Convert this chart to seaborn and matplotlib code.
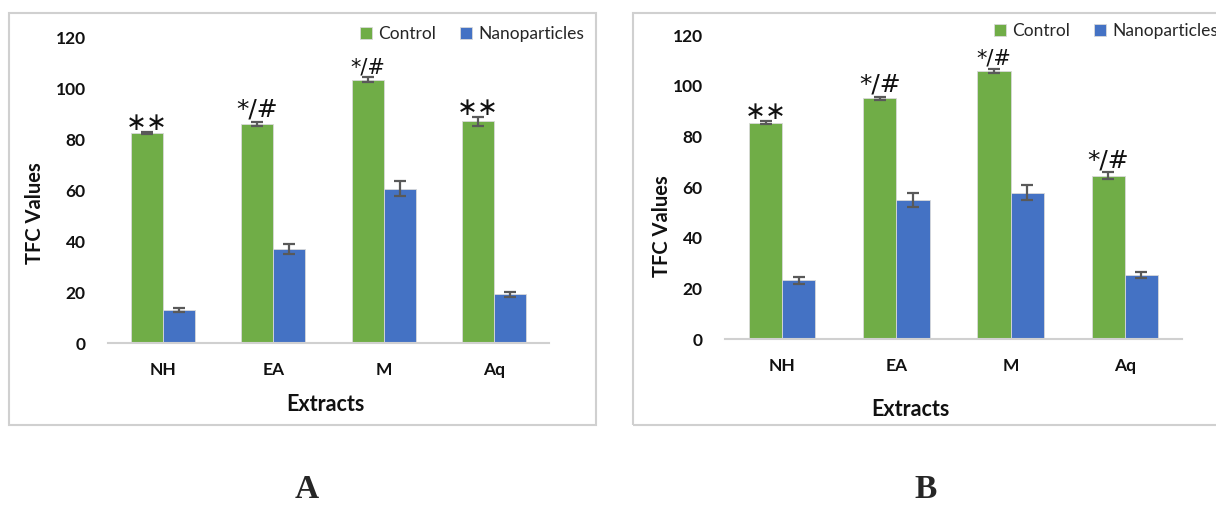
import matplotlib
matplotlib.use("Agg")
import matplotlib.pyplot as plt
from matplotlib.patches import Rectangle
import seaborn as sns
import pandas as pd

# Extract groups and treatments
extracts = ["NH", "EA", "M", "Aq"]
series = ["Control", "Nanoparticles"]

# Panel A: TFC means and error bars
a_control = [82.6, 86.2, 103.5, 87.2]
a_nano = [12.9, 37.0, 60.7, 19.1]
a_control_err = [0.5, 0.8, 1.0, 1.7]
a_nano_err = [0.8, 1.8, 3.0, 0.9]
a_marks = ["∗∗", "*/#", "*/#", "∗∗"]

# Panel B: TFC means and error bars
b_control = [85.4, 95.0, 105.8, 64.4]
b_nano = [23.1, 54.9, 57.7, 25.2]
b_control_err = [0.6, 0.7, 0.9, 1.4]
b_nano_err = [1.4, 2.8, 3.0, 1.2]
b_marks = ["∗∗", "*/#", "*/#", "*/#"]

y_ticks = [0, 20, 40, 60, 80, 100, 120]

GREEN = "#70AD47"
BLUE = "#4472C4"
ERR = "#595959"
INK = "#111111"
FONT = "Lato"

sns.set_theme(style="white")
plt.rcParams["font.family"] = [FONT, "DejaVu Sans"]

W, H = 1216, 505
fig = plt.figure(figsize=(W / 100, H / 100), dpi=100)


def px_axes(x0, y0, x1, y1):
    return fig.add_axes([x0 / W, 1 - y1 / H, (x1 - x0) / W, (y1 - y0) / H])


def frame(x0, y0, x1, y1):
    fig.patches.append(Rectangle((x0 / W, 1 - y1 / H), (x1 - x0) / W, (y1 - y0) / H,
                                 transform=fig.transFigure, fill=False,
                                 edgecolor="#d0d0d0", linewidth=1.5))


def panel(ax, control, nano, cerr, nerr, marks, mark_sizes, legend_center,
          ylabel_at, xlabel_at):
    df = pd.DataFrame({
        "Extract": extracts * 2,
        "Series": [series[0]] * 4 + [series[1]] * 4,
        "TFC": list(control) + list(nano),
    })
    sns.barplot(data=df, x="Extract", y="TFC", hue="Series", order=extracts,
                hue_order=series, palette=[GREEN, BLUE], width=0.58,
                errorbar=None, saturation=1, edgecolor="#d9d9d9", linewidth=0.6,
                ax=ax)
    errs = [cerr, nerr]
    for cont, err in zip(ax.containers, errs):
        xs = [p.get_x() + p.get_width() / 2 for p in cont]
        ys = [p.get_height() for p in cont]
        ax.errorbar(xs, ys, yerr=err, fmt="none", ecolor=ERR, elinewidth=1.6,
                    capsize=4.5, capthick=1.6, zorder=5)
    # significance marks above the control bars
    for p, e, m, s in zip(ax.containers[0], cerr, marks, mark_sizes):
        lift = -2 if m.startswith("∗") else 0
        ax.annotate(m, (p.get_x() + p.get_width() / 2, p.get_height() + e),
                    xytext=(0, lift), textcoords="offset points",
                    ha="center", va="bottom", fontsize=s, color=INK,
                    family=["DejaVu Sans"])
    ax.set_ylim(0, 120)
    ax.set_xlim(-0.5, 3.5)
    ax.set_yticks(y_ticks)
    ax.set_yticklabels([str(t) for t in y_ticks], fontsize=12.5,
                       fontweight="bold", color=INK)
    ax.set_xticks(range(len(extracts)))
    ax.set_xticklabels(extracts, fontsize=12.5, fontweight="bold", color=INK)
    ax.tick_params(axis="y", length=0, pad=16)
    ax.tick_params(axis="x", length=0, pad=14)
    ax.set_ylabel("TFC Values", fontsize=14.5, fontweight="bold", color=INK)
    ax.set_xlabel("Extracts", fontsize=15.5, fontweight="bold", color=INK)
    ax.yaxis.set_label_coords(*ylabel_at, transform=fig.transFigure)
    ax.xaxis.set_label_coords(*xlabel_at, transform=fig.transFigure)
    for side in ["top", "right", "left"]:
        ax.spines[side].set_visible(False)
    ax.spines["bottom"].set_color("#d0d0d0")
    ax.spines["bottom"].set_linewidth(1.5)
    handles, labels = ax.get_legend_handles_labels()
    if ax.get_legend() is not None:
        ax.get_legend().remove()
    fig.legend(handles, labels, loc="center",
               bbox_to_anchor=(legend_center[0] / W, 1 - legend_center[1] / H),
               bbox_transform=fig.transFigure, ncol=2, frameon=False,
               fontsize=12.5, handlelength=0.7, handleheight=0.7,
               handletextpad=0.35, columnspacing=1.4)
    ax.set_facecolor("white")


def fig_pt(x, y):
    return (x / W, 1 - y / H)


frame(9, 13, 596, 425)
frame(633, 13, 1240, 425)

ax_a = px_axes(108, 38, 549, 343)
panel(ax_a, a_control, a_nano, a_control_err, a_nano_err, a_marks,
      [18, 18, 15, 18], (472, 34), fig_pt(45, 213), fig_pt(325, 394))

ax_b = px_axes(725, 35, 1182, 339)
panel(ax_b, b_control, b_nano, b_control_err, b_nano_err, b_marks,
      [18, 18, 15, 18], (1106, 31), fig_pt(672, 226), fig_pt(910, 399))

fig.text(307 / W, 1 - 490 / H, "A", ha="center", va="center", fontsize=24,
         fontweight="bold", family="Liberation Serif")
fig.text(926 / W, 1 - 490 / H, "B", ha="center", va="center", fontsize=24,
         fontweight="bold", family="Liberation Serif")

fig.savefig("out.png", dpi=100, facecolor="white")
